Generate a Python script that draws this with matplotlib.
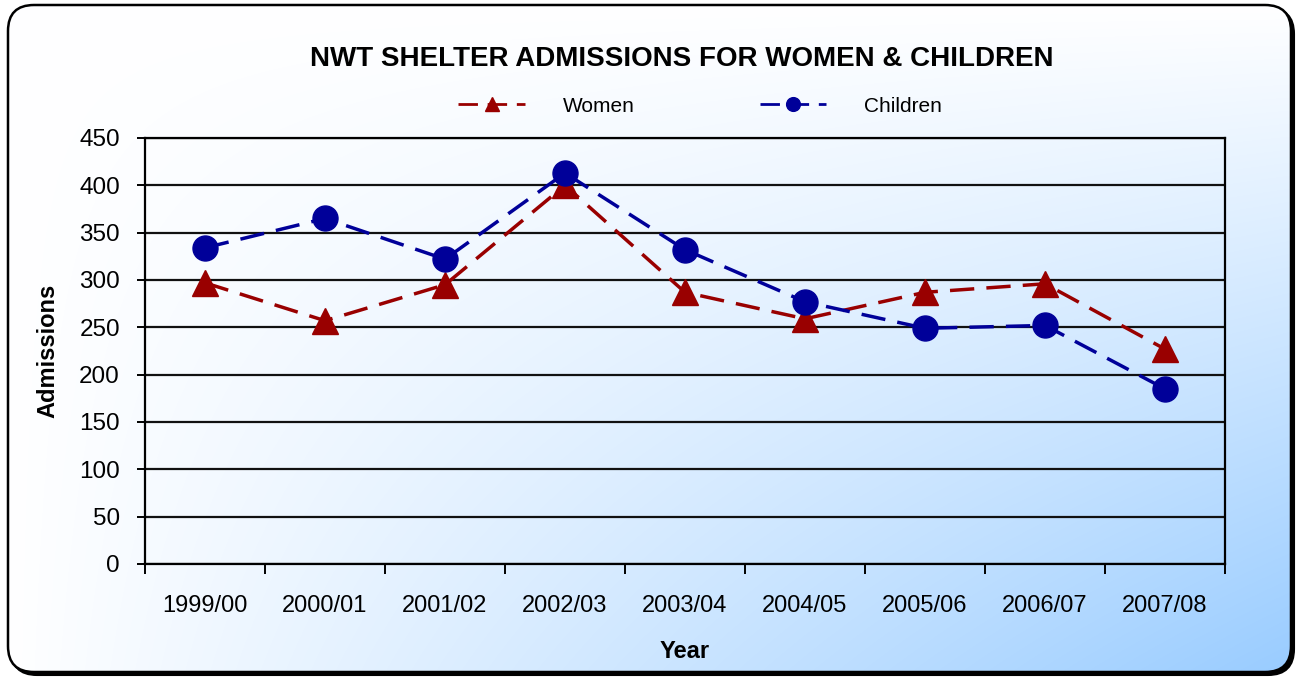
import matplotlib
matplotlib.use("Agg")
import matplotlib.pyplot as plt
import numpy as np
from matplotlib.patches import FancyBboxPatch

plt.rcParams['font.family'] = ['Liberation Sans', 'DejaVu Sans']

# data
years = ["1999/00", "2000/01", "2001/02", "2002/03", "2003/04",
         "2004/05", "2005/06", "2006/07", "2007/08"]
women = [297, 257, 295, 400, 287, 259, 287, 296, 227]
children = [334, 365, 322, 413, 332, 277, 249, 252, 185]
yticks = [0, 50, 100, 150, 200, 250, 300, 350, 400, 450]

W, H = 1299, 679
fig = plt.figure(figsize=(W / 100, H / 100), dpi=100)
fig.patch.set_facecolor("white")

# background: rounded frame with corner gradient, plus shadow
bg = fig.add_axes([0, 0, 1, 1], zorder=0)
bg.set_xlim(0, W)
bg.set_ylim(H, 0)
bg.axis("off")
x0, y0, x1, y1 = 8, 5, 1291, 672
shadow = FancyBboxPatch((x0 + 3, y0 + 3), x1 - x0, y1 - y0,
                        boxstyle="round,pad=0,rounding_size=26",
                        fc="black", ec="black", lw=1.5, zorder=1)
bg.add_patch(shadow)
frame = FancyBboxPatch((x0, y0), x1 - x0, y1 - y0,
                       boxstyle="round,pad=0,rounding_size=26",
                       fc="none", ec="black", lw=1.8, zorder=3)
bg.add_patch(frame)
u = np.linspace(0, 1, 400)[None, :]
v = np.linspace(0, 1, 250)[:, None]
t = u * v
c0 = np.array([1.0, 1.0, 1.0])
c1 = np.array([153, 204, 255]) / 255.0
img = c0[None, None, :] * (1 - t[..., None]) + c1[None, None, :] * t[..., None]
im = bg.imshow(img, extent=(x0, x1, y1, y0), aspect="auto", zorder=2,
               interpolation="bilinear")
clip = FancyBboxPatch((x0, y0), x1 - x0, y1 - y0,
                      boxstyle="round,pad=0,rounding_size=26",
                      fc="none", ec="none", transform=bg.transData)
im.set_clip_path(clip)

# main chart
ax = fig.add_axes([145 / W, 1 - 564 / H, (1225 - 145) / W, (564 - 138) / H], zorder=2)
ax.patch.set_alpha(0)
xs = np.arange(len(years))

ax.plot(xs, women, color="#990000", lw=2.5, ls=(0, (7, 3.5)),
        marker="^", markersize=19, label="Women", zorder=3)
ax.plot(xs, children, color="#000099", lw=2.5, ls=(0, (7, 3.5)),
        marker="o", markersize=18, label="Children", zorder=4)

ax.set_xlim(-0.5, len(years) - 0.5)
ax.set_ylim(0, 450)
ax.set_yticks(yticks)
ax.set_xticks(xs)
ax.set_xticklabels(years)
ax.set_xticks(np.arange(-0.5, len(years)), minor=True)
ax.tick_params(axis="x", which="major", length=0, pad=22, labelsize=17)
ax.tick_params(axis="x", which="minor", length=7, width=1.4, direction="out")
ax.tick_params(axis="y", length=6, width=1.4, direction="out", pad=12, labelsize=17.5)
ax.grid(axis="y", color="#111111", lw=1.6)
ax.set_axisbelow(True)
for s in ax.spines.values():
    s.set_linewidth(1.6)
    s.set_color("black")

ax.set_xlabel("Year", fontsize=17, fontweight="bold", labelpad=17)
ax.set_ylabel("Admissions", fontsize=17, fontweight="bold", labelpad=14)

fig.text(682 / W, 1 - 59 / H, "NWT SHELTER ADMISSIONS FOR WOMEN & CHILDREN",
         ha="center", va="center", fontsize=20, fontweight="bold", zorder=5)

leg = fig.legend(loc="center", bbox_to_anchor=(700 / W, 1 - 106 / H), ncol=2,
                 frameon=False, fontsize=15, markerscale=0.55,
                 handlelength=3.2, handletextpad=1.8, columnspacing=6.0)
for line in leg.get_lines():
    line.set_linewidth(2)

fig.savefig("out.png", dpi=100)
